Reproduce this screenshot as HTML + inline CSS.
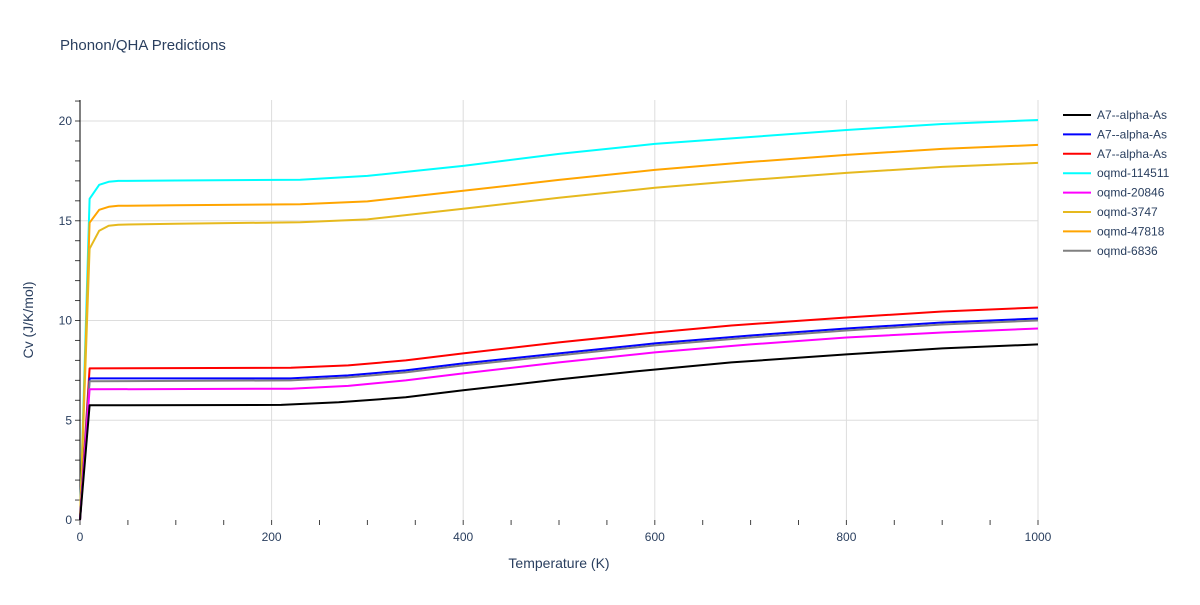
<!DOCTYPE html>
<html><head><meta charset="utf-8"><style>
body{margin:0;background:#fff;font-family:"Liberation Sans",sans-serif}
text{font-family:"Liberation Sans",sans-serif}
</style></head><body>
<svg id="c" width="1200" height="600"></svg>
<script>
const xTicks=[0,200,400,600,800,1000];
const yTicks=[0,5,10,15,20];
const seriesNames=["A7--alpha-As","A7--alpha-As","A7--alpha-As","oqmd-114511","oqmd-20846","oqmd-3747","oqmd-47818","oqmd-6836"];
const seriesColors=["#000000","#0000ff","#ff0000","#00ffff","#ff00ff","#e6b91e","#ffa500","#808080"];
const tBlack=[0,10,210,270,340,400,500,580,680,800,900,1000];
const vBlack=[0,5.75,5.77,5.9,6.15,6.5,7.05,7.45,7.9,8.3,8.6,8.8];
const tBlue=[0,10,220,280,340,400,500,600,700,800,900,1000];
const vBlue=[0,7.1,7.1,7.25,7.5,7.85,8.35,8.85,9.25,9.6,9.9,10.1];
const tRed=[0,10,220,280,340,400,500,600,680,800,900,1000];
const vRed=[0,7.6,7.63,7.75,8.0,8.35,8.9,9.4,9.75,10.15,10.45,10.65];
const tCyan=[0,10,20,30,40,100,230,300,350,400,500,600,700,800,900,1000];
const vCyan=[0,16.1,16.8,16.95,17.0,17.02,17.06,17.25,17.5,17.75,18.35,18.85,19.2,19.55,19.85,20.05];
const tMag=[0,10,220,280,340,400,500,600,700,800,900,1000];
const vMag=[0,6.55,6.58,6.72,7.0,7.35,7.9,8.4,8.8,9.15,9.4,9.6];
const tGold=[0,10,20,30,40,100,230,300,400,500,600,700,800,900,1000];
const vGold=[0,13.6,14.5,14.75,14.8,14.85,14.92,15.07,15.6,16.15,16.65,17.05,17.4,17.7,17.9];
const tOrange=[0,10,20,30,40,100,230,300,400,500,600,700,800,900,1000];
const vOrange=[0,14.9,15.55,15.7,15.75,15.78,15.83,15.97,16.5,17.05,17.55,17.95,18.3,18.6,18.8];
const tGray=[0,10,220,280,340,400,500,600,700,800,900,1000];
const vGray=[0,6.95,7.0,7.15,7.4,7.75,8.25,8.75,9.15,9.5,9.8,10.0];
const seriesT=[tBlack,tBlue,tRed,tCyan,tMag,tGold,tOrange,tGray];
const seriesV=[vBlack,vBlue,vRed,vCyan,vMag,vGold,vOrange,vGray];
const drawOrder=[3,6,5,2,1,7,4,0];

const TXT='#2a3f5f';
const NS="http://www.w3.org/2000/svg";
const svg=document.getElementById('c');
const X0=80,X1=1038,Y0=520,Y1=121;
const sx=v=>X0+(v/1000)*(X1-X0);
const sy=v=>Y0-(v/20)*(Y0-Y1);
function el(tag,attrs,parent){const e=document.createElementNS(NS,tag);for(const k in attrs)e.setAttribute(k,attrs[k]);(parent||svg).appendChild(e);return e;}

let t=el('text',{x:60,y:50,'font-size':15,fill:TXT});t.textContent='Phonon/QHA Predictions';



xTicks.forEach(v=>{
 if(v>0){const g=el('line',{x1:sx(v),x2:sx(v),y1:100,y2:Y0,stroke:'#ddd','stroke-width':1});
 
 }
 const l=el('text',{x:sx(v),y:541,'font-size':12,fill:TXT,'text-anchor':'middle'});l.textContent=v;
 
 
});
for(let v=0;v<=1000;v+=50){const m=el('line',{x1:sx(v),x2:sx(v),y1:Y0,y2:Y0+5,stroke:'#444'});
 
 }
yTicks.forEach(v=>{
 if(v>0){const g=el('line',{x1:X0,x2:X1,y1:sy(v),y2:sy(v),stroke:'#ddd','stroke-width':1});
 
 }
 const l=el('text',{x:X0-8,y:sy(v)+4,'font-size':12,fill:TXT,'text-anchor':'end'});l.textContent=v;
 
 
});
for(let v=0;v<=21;v+=1){const m=el('line',{x1:X0-5,x2:X0,y1:sy(v),y2:sy(v),stroke:'#444'});
 
 }
const ax=el('line',{x1:X0,x2:X0,y1:100,y2:Y0,stroke:'#000'});



drawOrder.forEach(i=>{
 const pts=seriesT[i].map((tt,j)=>sx(tt).toFixed(1)+','+sy(seriesV[i][j]).toFixed(1)).join(' ');
 const p=el('polyline',{points:pts,fill:'none',stroke:seriesColors[i],'stroke-width':2,'stroke-linejoin':'round'});
 
 
});

const xt=el('text',{x:559,y:568,'font-size':14,fill:TXT,'text-anchor':'middle'});xt.textContent='Temperature (K)';


const yt=el('text',{x:33,y:320,'font-size':14,fill:TXT,'text-anchor':'middle',transform:'rotate(-90 33 320)'});yt.textContent='Cv (J/K/mol)';



seriesNames.forEach((n,i)=>{
 const y=115+i*19.4;
 const g=el('g',{});
 
 
 el('line',{x1:1063,x2:1091,y1:y,y2:y,stroke:seriesColors[i],'stroke-width':2},g);
 const tx=el('text',{x:1097,y:y+4,'font-size':12,fill:TXT},g);tx.textContent=n;
});
</script>
</body></html>
